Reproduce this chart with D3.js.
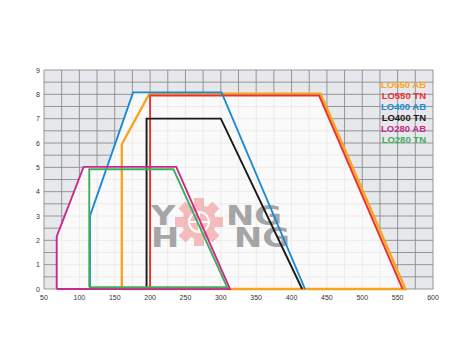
<!DOCTYPE html>
<html>
<head>
<meta charset="utf-8">
<script src="https://cdn.jsdelivr.net/npm/d3@7"></script>
<style>
  body { margin: 0; background: #fff; }
  svg { display: block; }
</style>
</head>
<body>
<svg id="chart" width="450" height="350"></svg>
<script>
// series outlines, [capacity, pressure] corners
let names = ["LO550 AB", "LO550 TN", "LO400 AB", "LO400 TN", "LO280 AB", "LO280 TN"];
let colors = ["#f7a51e", "#e8322b", "#1b8ad3", "#1a1a1a", "#c92a8c", "#41ad5c"];
let lo550ab = [[160, 0], [160, 5.95], [199, 8.03], [441, 8.03], [561, 0], [160, 0]];
let lo550tn = [[200, 0], [200, 7.95], [439, 7.95], [557, 0]];
let lo400ab = [[115, 0], [115, 3.0], [176, 8.08], [301, 8.08], [419, 0]];
let lo400tn = [[195, 0], [195, 7.0], [300, 7.0], [415, 0]];
let lo280ab = [[68, 0], [68, 2.16], [106, 5.02], [237, 5.02], [313, 0], [68, 0]];
let lo280tn = [[114, 0.07], [114, 4.92], [233, 4.92], [309, 0.07], [114, 0.07]];
let xTicks = [50, 100, 150, 200, 250, 300, 350, 400, 450, 500, 550, 600];
let yTicks = [0, 1, 2, 3, 4, 5, 6, 7, 8, 9];

let series = [lo550ab, lo550tn, lo400ab, lo400tn, lo280ab, lo280tn];

const svg = d3.select("#chart");
const plotL = 44, plotR = 433, plotT = 70, plotB = 289;

let x = d3.scaleLinear().domain([50, 600]).range([plotL, plotR]);
let y = d3.scaleLinear().domain([0, 9]).range([plotB, plotT]);

// plot background
svg.append("rect")
    .attr("x", plotL).attr("y", plotT)
    .attr("width", plotR - plotL).attr("height", plotB - plotT)
    .attr("fill", "#e6e8eb");

// grid every 25 / 0.5
let grid = svg.append("g").attr("stroke", "#8c8c8c").attr("stroke-width", 0.9);
d3.range(50, 601, 25).forEach(v => {
    grid.append("line")
        .attr("x1", x(v)).attr("x2", x(v))
        .attr("y1", plotT).attr("y2", plotB);
});
d3.range(0, 9.01, 0.5).forEach(v => {
    grid.append("line")
        .attr("x1", plotL).attr("x2", plotR)
        .attr("y1", y(v)).attr("y2", y(v));
});

let line = d3.line().x(d => x(d[0])).y(d => y(d[1]));

// lighter area inside the envelope of all ranges
let fills = svg.append("g").attr("opacity", 0.82);
series.forEach(s => {
    fills.append("path").attr("d", line(s) + "Z").attr("fill", "#ffffff");
});

// watermark logo
let logo = svg.append("g").attr("opacity", 0.75);
let gear = logo.append("g").attr("transform", "translate(199,222)");
d3.range(8).forEach(i => {
    gear.append("rect")
        .attr("x", -5).attr("y", -24).attr("width", 10).attr("height", 10)
        .attr("fill", "#f2a8a8")
        .attr("transform", "rotate(" + i * 45 + ")");
});
gear.append("circle").attr("r", 17).attr("fill", "#f2a8a8");
gear.append("circle").attr("r", 10).attr("fill", "none").attr("stroke", "#fff").attr("stroke-width", 2);
gear.append("path").attr("d", "M0,-10V10M-10,0H10").attr("stroke", "#fff").attr("stroke-width", 2);

// one text per column, two rows as tspans
let cols = logo.selectAll("text.logo")
    .data([[["Y", 0], ["H", 0]], [["NG", 0], ["NG", 8]]])
    .enter()
    .append("text")
    .attr("class", "logo")
    .attr("transform", (d, i) => "translate(" + (i == 0 ? 151 : 226) + ",225) scale(1.25,1)")
    .attr("font-family", "DejaVu Sans")
    .attr("font-weight", "bold")
    .attr("font-size", 27)
    .attr("fill", "#8a8a8a");
cols.selectAll("tspan")
    .data(d => d)
    .enter()
    .append("tspan")
    .attr("x", d => d[1] / 1.25)
    .attr("dy", (d, i) => i == 0 ? 0 : 22)
    .text(d => d[0]);

// outlines; red sits on the orange, the small ranges on top
series.forEach((s, i) => {
    svg.append("path")
        .attr("d", line(s))
        .attr("fill", "none")
        .attr("stroke", colors[i])
        .attr("stroke-width", i == 0 ? 2.4 : 1.9)
        .attr("stroke-linejoin", "miter");
});

// axis labels
svg.selectAll("text.xt")
    .data(xTicks)
    .enter()
    .append("text")
    .attr("class", "xt")
    .attr("x", d => x(d))
    .attr("y", 300)
    .attr("text-anchor", "middle")
    .attr("font-family", "Liberation Sans")
    .attr("font-size", 7)
    .attr("fill", "#333")
    .text(d => d);

svg.selectAll("text.yt")
    .data(yTicks)
    .enter()
    .append("text")
    .attr("class", "yt")
    .attr("x", 40)
    .attr("y", d => y(d) + 2.5)
    .attr("text-anchor", "end")
    .attr("font-family", "Liberation Sans")
    .attr("font-size", 7)
    .attr("fill", "#333")
    .text(d => d);

// legend
svg.selectAll("text.legend")
    .data(names)
    .enter()
    .append("text")
    .attr("class", "legend")
    .attr("x", 426)
    .attr("y", (d, i) => 88 + i * 10.9)
    .attr("text-anchor", "end")
    .attr("font-family", "Liberation Sans")
    .attr("font-weight", "bold")
    .attr("font-size", 9.5)
    .attr("fill", (d, i) => colors[i])
    .text(d => d);
</script>
</body>
</html>
